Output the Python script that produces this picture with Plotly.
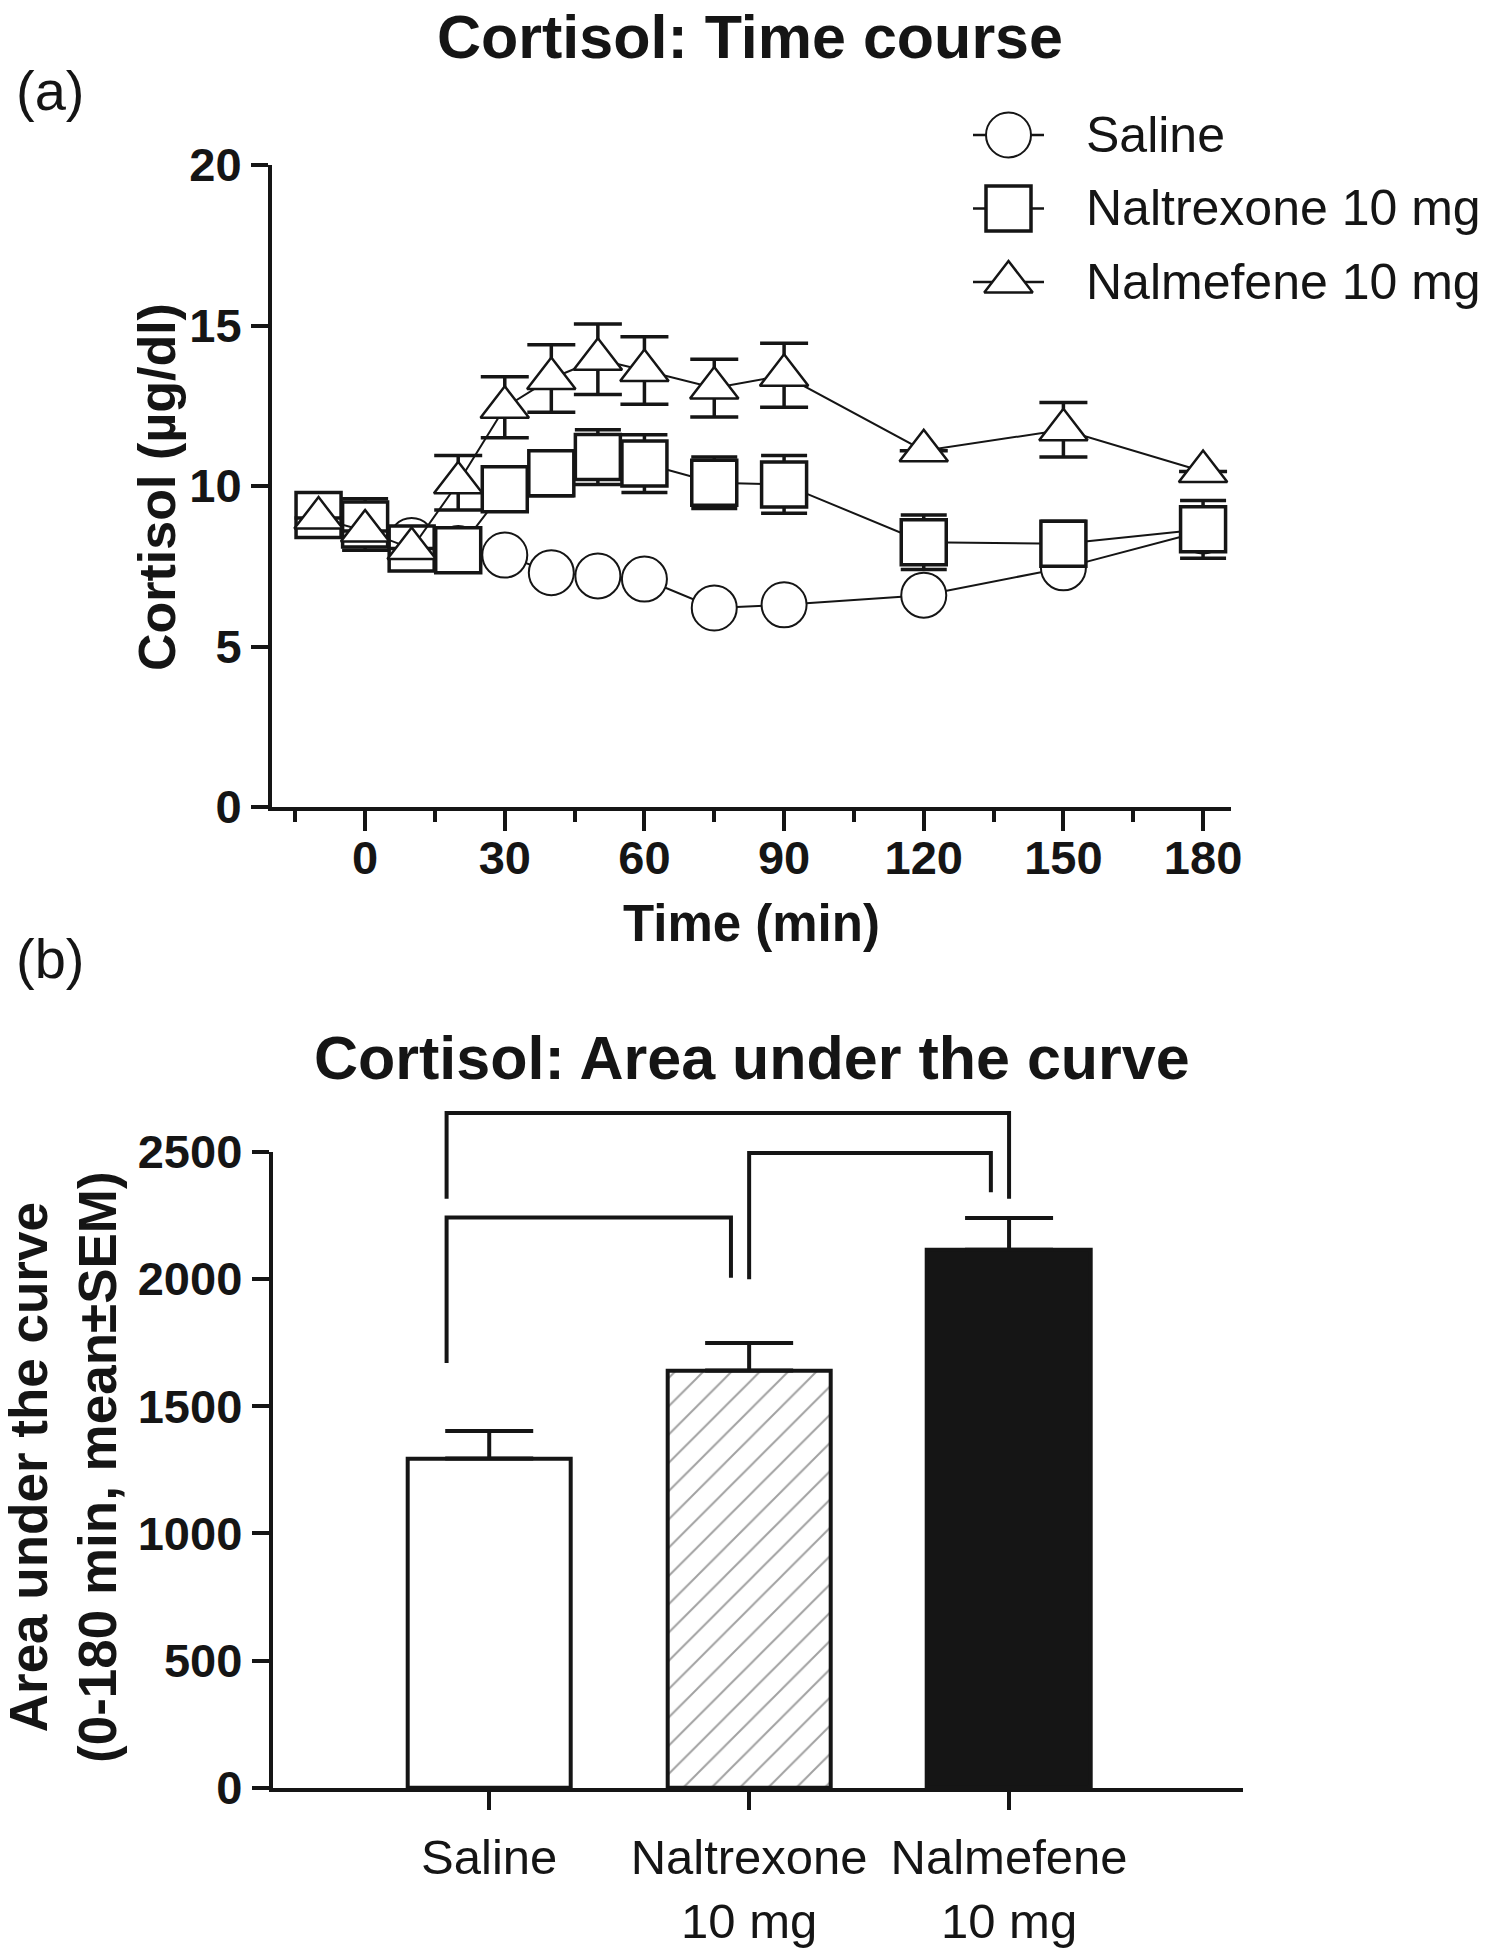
import plotly.graph_objects as go

# ---------------- data ----------------
time_min = [-10, 0, 10, 20, 30, 40, 50, 60, 75, 90, 120, 150, 180]

saline_mean = [9.1, 8.8, 8.3, 8.05, 7.85, 7.3, 7.2, 7.1, 6.2, 6.3, 6.6, 7.45, 8.6]
saline_sem = [None] * 13  # hidden behind the symbols

naltrexone_mean = [9.1, 8.8, 8.05, 8.0, 9.9, 10.4, 10.9, 10.7, 10.1, 10.05, 8.25, 8.2, 8.65]
naltrexone_sem = [None, 0.8, None, None, None, 0.7, 0.85, 0.9, 0.8, 0.9, 0.85, 0.7, 0.9]

nalmefene_mean = [9.0, 8.6, 8.05, 10.1, 12.45, 13.35, 13.95, 13.6, 13.05, 13.45, 11.1, 11.75, 10.45]
nalmefene_sem = [None, None, None, 0.85, 0.95, 1.05, 1.1, 1.05, 0.9, 1.0, None, 0.85, None]

series_names = ["Saline", "Naltrexone 10 mg", "Nalmefene 10 mg"]

auc_categories = ["Saline", "Naltrexone 10 mg", "Nalmefene 10 mg"]
auc_ticktext = ["Saline", "Naltrexone<br>10 mg", "Nalmefene<br>10 mg"]
auc_mean = [1295, 1640, 2115]
auc_sem = [108, 108, 125]

# significance brackets (x in category index units, y in AUC units)
bracket_x_left = [-0.164, 1.0, -0.164]
bracket_x_right = [2.0, 1.93, 0.93]
bracket_y_top = [2652, 2495, 2241]
bracket_y_left_end = [2315, 1999, 1670]
bracket_y_right_end = [2315, 2341, 2005]

# ---------------- layout helpers ----------------
W, H = 1488, 1950
INK = "#151515"
FONT = "Liberation Sans, Arial, Helvetica, sans-serif"


def fx(p):
    return p / W


def fy(p):
    return 1 - p / H


fig = go.Figure()

# ---------------- panel (a): time course ----------------
styles = [
    dict(symbol="circle", size=45, lw=2.0, sem=saline_sem, mean=saline_mean, ew=18),
    dict(symbol="square", size=45, lw=3.5, sem=naltrexone_sem, mean=naltrexone_mean, ew=23),
    dict(symbol="triangle-up", size=42, lw=2.5, sem=nalmefene_sem, mean=nalmefene_mean, ew=24),
]
for name, st in zip(series_names, styles):
    fig.add_trace(go.Scatter(
        x=time_min, y=st["mean"], name=name, mode="lines+markers",
        xaxis="x", yaxis="y", cliponaxis=False, showlegend=False,
        line=dict(color=INK, width=2),
        marker=dict(symbol=st["symbol"], size=st["size"], color="white",
                    line=dict(color=INK, width=st["lw"])),
        error_y=dict(type="data", array=st["sem"], visible=True,
                     color=INK, thickness=3.5, width=st["ew"]),
    ))

# custom legend (drawn on its own hidden axes so symbols keep full size)
for i, (name, st) in enumerate(zip(series_names, styles)):
    fig.add_trace(go.Scatter(
        x=[-1, 1], y=[i, i], mode="lines", xaxis="x3", yaxis="y3",
        line=dict(color=INK, width=2.5), showlegend=False, hoverinfo="skip"))
    fig.add_trace(go.Scatter(
        x=[0], y=[i], mode="markers", xaxis="x3", yaxis="y3", cliponaxis=False,
        marker=dict(symbol=st["symbol"], size=st["size"], color="white",
                    line=dict(color=INK, width=st["lw"])),
        showlegend=False, hoverinfo="skip"))

# ---------------- panel (b): AUC bars ----------------
fig.add_trace(go.Bar(
    x=list(range(len(auc_categories))), y=auc_mean, width=0.63,
    xaxis="x2", yaxis="y2", showlegend=False,
    hovertext=auc_categories,
    marker=dict(color=["white", "white", INK],
                line=dict(color=INK, width=4),
                pattern=dict(shape=["", "/", ""], fgcolor="#9c9c9c",
                             bgcolor="white", size=20, solidity=0.1)),
    error_y=dict(type="data", array=auc_sem, arrayminus=[0] * len(auc_sem),
                 symmetric=False, color=INK, thickness=4, width=44),
))

for xl, xr, yt, yl, yr in zip(bracket_x_left, bracket_x_right, bracket_y_top,
                              bracket_y_left_end, bracket_y_right_end):
    fig.add_trace(go.Scatter(
        x=[xl, xl, xr, xr], y=[yl, yt, yt, yr], mode="lines",
        xaxis="x4", yaxis="y4", line=dict(color=INK, width=4),
        showlegend=False, hoverinfo="skip"))

# ---------------- axes ----------------
tick_bold = dict(family=FONT, size=47, color=INK, weight="bold")
axis_common = dict(showline=True, linecolor=INK, linewidth=4, showgrid=False,
                   zeroline=False, ticks="outside", tickcolor=INK, tickwidth=4,
                   automargin=False, fixedrange=True)

x0_top, x1_top = 272, 1231
y0_top, y1_top = 807, 165
x0_bot, x1_bot = 272.7, 1243
y0_bot, y1_bot = 1788, 1151.7
y_ext_bot = y0_bot - (y0_bot - y1_bot) * 2750 / 2500

fig.update_layout(
    width=W, height=H, autosize=False,
    margin=dict(l=0, r=0, t=0, b=0, pad=0),
    paper_bgcolor="white", plot_bgcolor="rgba(0,0,0,0)",
    font=dict(family=FONT, color=INK),
    xaxis=dict(axis_common, domain=[fx(x0_top), fx(x1_top)], range=[-20, 186],
               anchor="y", tick0=0, dtick=30, ticklen=20, tickfont=tick_bold,
               ticklabelstandoff=-13,
               minor=dict(ticks="outside", tick0=-15, dtick=15, ticklen=11,
                          tickwidth=4, tickcolor=INK, showgrid=False)),
    yaxis=dict(axis_common, domain=[fy(y0_top), fy(y1_top)], range=[0, 20],
               anchor="x", tick0=0, dtick=5, ticklen=17, tickfont=tick_bold),
    xaxis2=dict(axis_common, domain=[fx(x0_bot), fx(x1_bot)], range=[-0.833, 2.9],
                anchor="y2", tickmode="array", tickvals=list(range(len(auc_ticktext))),
                ticktext=auc_ticktext, ticklen=18, ticklabelstandoff=5,
                tickfont=dict(family=FONT, size=49, color=INK)),
    yaxis2=dict(axis_common, domain=[fy(y0_bot), fy(y1_bot)], range=[0, 2500],
                anchor="x2", tick0=0, dtick=500, ticklen=17, tickfont=tick_bold),
    xaxis3=dict(domain=[fx(973), fx(1044)], range=[-1, 1], visible=False,
                anchor="y3", fixedrange=True),
    yaxis3=dict(domain=[fy(318.75), fy(98.25)], range=[2.5, -0.5], visible=False,
                anchor="x3", fixedrange=True),
    xaxis4=dict(domain=[fx(x0_bot), fx(x1_bot)], range=[-0.833, 2.9], visible=False,
                anchor="y4", fixedrange=True),
    yaxis4=dict(domain=[fy(y0_bot), fy(y_ext_bot)], range=[0, 2750], visible=False,
                anchor="x4", fixedrange=True),
    bargap=0,
)

# ---------------- text ----------------
def ann(text, x, y, size, bold=False, xanchor="center", angle=0):
    fig.add_annotation(text=text, x=fx(x), y=fy(y), xref="paper", yref="paper",
                       xanchor=xanchor, yanchor="middle", showarrow=False,
                       textangle=angle,
                       font=dict(family=FONT, size=size, color=INK,
                                 weight="bold" if bold else "normal"))


ann("Cortisol: Time course", 750, 37, 61, bold=True)
ann("(a)", 14, 91, 56, xanchor="left")
ann("Cortisol (µg/dl)", 157, 487, 52, bold=True, angle=-90)
ann("Time (min)", 751, 923, 51, bold=True)
for i, name in enumerate(series_names):
    ann(name, 1084, 135 + 73.5 * i, 50, xanchor="left")

ann("(b)", 14, 958, 56, xanchor="left")
ann("Cortisol: Area under the curve", 752, 1058, 61, bold=True)
ann("Area under the curve<br>(0-180 min, mean±SEM)", 63, 1467, 53, bold=True, angle=-90)

fig.write_html("out.html", config={"displayModeBar": False},
               post_script="document.body.style.margin='0';")
